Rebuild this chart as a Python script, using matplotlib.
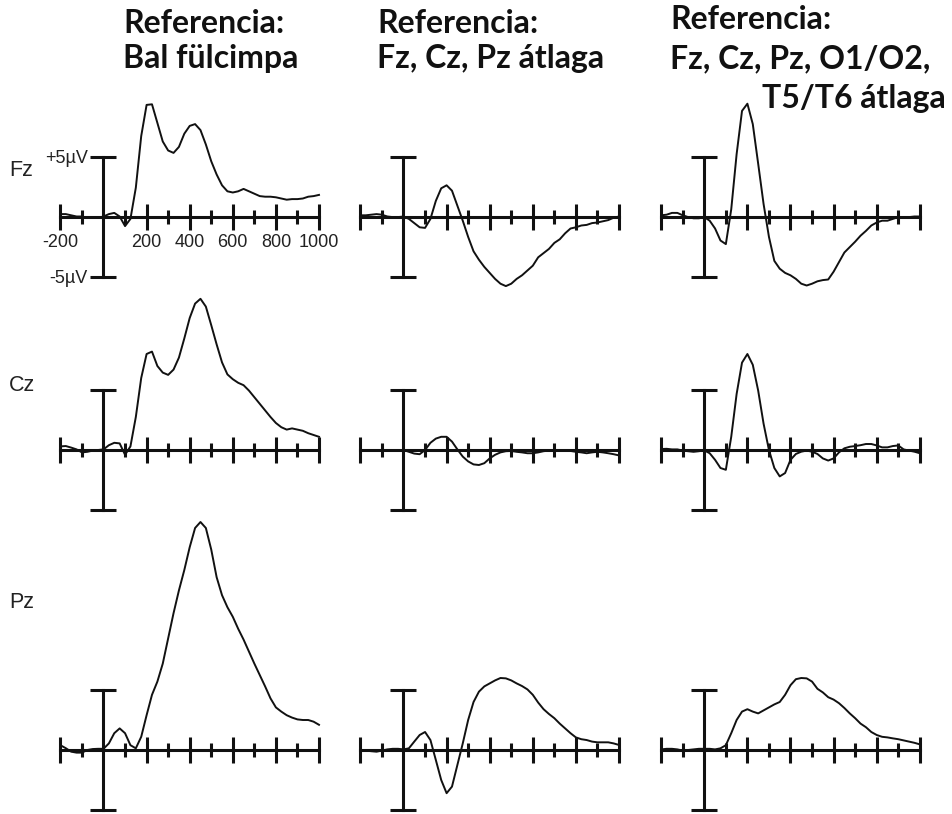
import matplotlib.pyplot as plt
from matplotlib.ticker import FixedLocator

# time axis in ms, one sample every 25 ms
times = list(range(-200, 1001, 25))

# left ear reference
ear_fz = [0.2, 0.2, 0.1, 0.0, 0.0, -0.1, -0.1, -0.1,
          0.0, 0.2, 0.3, 0.0, -0.8, -0.2, 2.4, 6.7,
          9.3, 9.35, 7.8, 6.25, 5.5, 5.3, 5.8, 6.9,
          7.55, 7.7, 7.2, 6.0, 4.6, 3.5, 2.6, 2.1,
          2.0, 2.1, 2.3, 2.1, 1.9, 1.7, 1.65, 1.65,
          1.6, 1.5, 1.4, 1.45, 1.45, 1.5, 1.65, 1.7, 1.8]
ear_cz = [0.3, 0.33, 0.2, 0.05, -0.2, -0.15, -0.05, 0.0,
          0.05, 0.4, 0.6, 0.55, -0.4, 0.3, 2.75, 6.0,
          8.0, 8.2, 7.0, 6.45, 6.26, 6.7, 7.7, 9.3,
          11.0, 12.2, 12.6, 11.95, 10.4, 8.8, 7.3, 6.3,
          5.9, 5.6, 5.4, 4.95, 4.4, 3.85, 3.3, 2.75,
          2.25, 1.9, 1.7, 1.8, 1.7, 1.6, 1.4, 1.25, 1.1]
ear_pz = [0.4, 0.15, -0.14, -0.22, -0.22, 0.0, 0.08, 0.1,
          0.1, 0.55, 1.4, 1.8, 1.4, 0.4, 0.14, 1.1,
          2.9, 4.6, 5.7, 7.2, 9.3, 11.4, 13.3, 15.0,
          16.9, 18.5, 19.0, 18.5, 16.7, 14.4, 12.9, 11.9,
          11.1, 10.1, 9.2, 8.2, 7.2, 6.25, 5.3, 4.3,
          3.55, 3.2, 2.9, 2.7, 2.55, 2.5, 2.5, 2.36, 2.1]

# average of Fz, Cz, Pz
mid_fz = [0.1, 0.1, 0.15, 0.2, 0.15, 0.0, -0.05, -0.05,
          0.0, -0.2, -0.55, -0.9, -0.95, -0.2, 1.3, 2.35,
          2.6, 2.15, 0.9, -0.35, -1.7, -2.9, -3.6, -4.2,
          -4.7, -5.2, -5.6, -5.8, -5.6, -5.2, -4.9, -4.5,
          -4.1, -3.4, -3.05, -2.7, -2.2, -1.9, -1.4, -1.0,
          -0.9, -0.75, -0.7, -0.55, -0.5, -0.4, -0.3, -0.1, 0.0]
mid_cz = [0.0, 0.0, 0.0, 0.0, 0.0, 0.0, 0.0, 0.0,
          0.0, -0.15, -0.3, -0.35, 0.0, 0.6, 0.95, 1.1,
          1.1, 0.7, 0.05, -0.55, -0.95, -1.2, -1.25, -1.1,
          -0.7, -0.4, -0.2, -0.1, -0.08, -0.15, -0.2, -0.27,
          -0.27, -0.2, -0.1, -0.05, 0.0, -0.05, -0.05, -0.08,
          -0.15, -0.2, -0.27, -0.2, -0.15, -0.2, -0.27, -0.35, -0.45]
mid_pz = [0.0, -0.05, -0.1, -0.14, -0.05, 0.05, 0.1, 0.1,
          0.05, 0.14, 0.7, 1.25, 1.5, 0.83, -0.83, -2.5,
          -3.6, -3.05, -1.25, 0.55, 2.5, 4.0, 4.86, 5.3,
          5.55, 5.8, 6.0, 5.97, 5.8, 5.55, 5.33, 5.05,
          4.6, 3.95, 3.4, 3.0, 2.65, 2.2, 1.8, 1.4,
          1.05, 0.9, 0.83, 0.7, 0.64, 0.64, 0.64, 0.55, 0.42]

# average of Fz, Cz, Pz, O1/O2, T5/T6
all_fz = [0.1, 0.15, 0.3, 0.3, 0.1, -0.05, -0.15, -0.15,
          -0.05, -0.35, -1.0, -2.0, -2.3, 0.6, 5.2, 8.8,
          9.4, 7.7, 4.4, 1.05, -1.7, -3.7, -4.35, -4.7,
          -4.9, -5.2, -5.6, -5.75, -5.6, -5.4, -5.3, -5.25,
          -4.6, -3.8, -3.0, -2.55, -2.1, -1.6, -1.2, -0.75,
          -0.5, -0.35, -0.35, -0.2, -0.05, -0.05, -0.05, 0.0, 0.0]
all_cz = [0.08, 0.1, 0.05, 0.05, -0.05, -0.1, -0.15, -0.1,
          -0.03, -0.27, -0.82, -1.5, -1.65, 1.1, 4.67, 7.28,
          8.0, 7.1, 4.95, 2.2, 0.0, -1.5, -2.2, -1.92,
          -0.82, -0.33, -0.14, -0.05, -0.14, -0.33, -0.7, -0.88,
          -0.7, -0.2, 0.14, 0.27, 0.33, 0.4, 0.5, 0.5,
          0.38, 0.22, 0.22, 0.33, 0.38, 0.05, -0.05, -0.14, -0.27]
all_pz = [0.05, 0.1, 0.1, 0.05, -0.05, 0.0, 0.05, 0.1,
          0.1, 0.1, 0.05, 0.14, 0.4, 1.4, 2.5, 3.2,
          3.4, 3.2, 3.05, 3.3, 3.55, 3.8, 4.0, 4.6,
          5.4, 5.9, 6.0, 5.97, 5.7, 5.1, 4.8, 4.4,
          4.2, 3.9, 3.5, 3.05, 2.65, 2.2, 1.9, 1.5,
          1.25, 1.1, 1.05, 0.97, 0.9, 0.8, 0.7, 0.6, 0.47]

electrodes = ['Fz', 'Cz', 'Pz']
waves = [[ear_fz, mid_fz, all_fz],
         [ear_cz, mid_cz, all_cz],
         [ear_pz, mid_pz, all_pz]]

major_ticks = [-200, 200, 400, 600, 800, 1000]
minor_ticks = [-100, 100, 300, 500, 700, 900]
x_labels = ['-200', '200', '400', '600', '800', '1000']
y_labels = ['-5\u00b5V', '+5\u00b5V']

W, H = 953, 814
fig = plt.figure(figsize=(W / 100, H / 100), dpi=100)

# pixel layout of the panel origins (0 ms, 0 uV)
col_x0 = [103.5, 403.5, 704.3]
row_y0 = [216.5, 450, 750]
px_ms = 0.2155
px_uv = 12.0
xlim = (-250, 1050)
ylim = (-7, 21)
ink = '#111111'
axis_lw = 2.2

for r in range(3):
    for c in range(3):
        left = col_x0[c] + xlim[0] * px_ms
        width = (xlim[1] - xlim[0]) * px_ms
        top = row_y0[r] - ylim[1] * px_uv
        height = (ylim[1] - ylim[0]) * px_uv
        ax = fig.add_axes([left / W, 1 - (top + height) / H, width / W, height / H])
        ax.patch.set_visible(False)
        ax.set_xlim(*xlim)
        ax.set_ylim(*ylim)

        ax.plot(times, waves[r][c], color=ink, lw=1.4, clip_on=False,
                solid_joinstyle='round')

        for side in ['top', 'right']:
            ax.spines[side].set_visible(False)
        ax.spines['bottom'].set_position(('data', 0))
        ax.spines['bottom'].set_bounds(-200, 1000)
        ax.spines['left'].set_position(('data', 0))
        ax.spines['left'].set_bounds(-5, 5)
        for side in ['bottom', 'left']:
            ax.spines[side].set_linewidth(axis_lw)
            ax.spines[side].set_color(ink)

        ax.xaxis.set_major_locator(FixedLocator(major_ticks))
        ax.xaxis.set_minor_locator(FixedLocator(minor_ticks))
        ax.yaxis.set_major_locator(FixedLocator([-5, 5]))
        ax.tick_params(axis='x', which='major', direction='inout', length=18.5,
                       width=axis_lw, color=ink, pad=3, labelsize=13)
        ax.tick_params(axis='x', which='minor', direction='inout', length=10,
                       width=axis_lw, color=ink)
        ax.tick_params(axis='y', direction='inout', length=18.5,
                       width=axis_lw, color=ink, pad=2, labelsize=13)

        if r == 0 and c == 0:
            ax.set_xticklabels(x_labels, family='Liberation Sans', color='#222222')
            ax.set_yticklabels(y_labels, family='Liberation Sans', color='#222222')
        else:
            ax.tick_params(labelbottom=False, labelleft=False)

# electrode names
label_y = [170, 385.5, 603]
for name, y in zip(electrodes, label_y):
    fig.text(9 / W, 1 - y / H, name, family='Liberation Sans', fontsize=15.5,
             color='#222222', ha='left', va='center')

# column headings
tfont = dict(family='Lato', weight='bold', fontsize=23, color='#111111')
fig.text(123 / W, 1 - 33 / H, 'Referencia:', ha='left', va='baseline', **tfont)
fig.text(123 / W, 1 - 68 / H, 'Bal f\u00fclcimpa', ha='left', va='baseline', **tfont)
fig.text(377 / W, 1 - 33 / H, 'Referencia:', ha='left', va='baseline', **tfont)
fig.text(377 / W, 1 - 68 / H, 'Fz, Cz, Pz \u00e1tlaga', ha='left', va='baseline', **tfont)
fig.text(670 / W, 1 - 29 / H, 'Referencia:', ha='left', va='baseline', **tfont)
fig.text(670 / W, 1 - 68.5 / H, 'Fz, Cz, Pz, O1/O2,', ha='left', va='baseline', **tfont)
fig.text(946 / W, 1 - 108 / H, 'T5/T6 \u00e1tlaga', ha='right', va='baseline', **tfont)

fig.savefig('out.png', dpi=100)
